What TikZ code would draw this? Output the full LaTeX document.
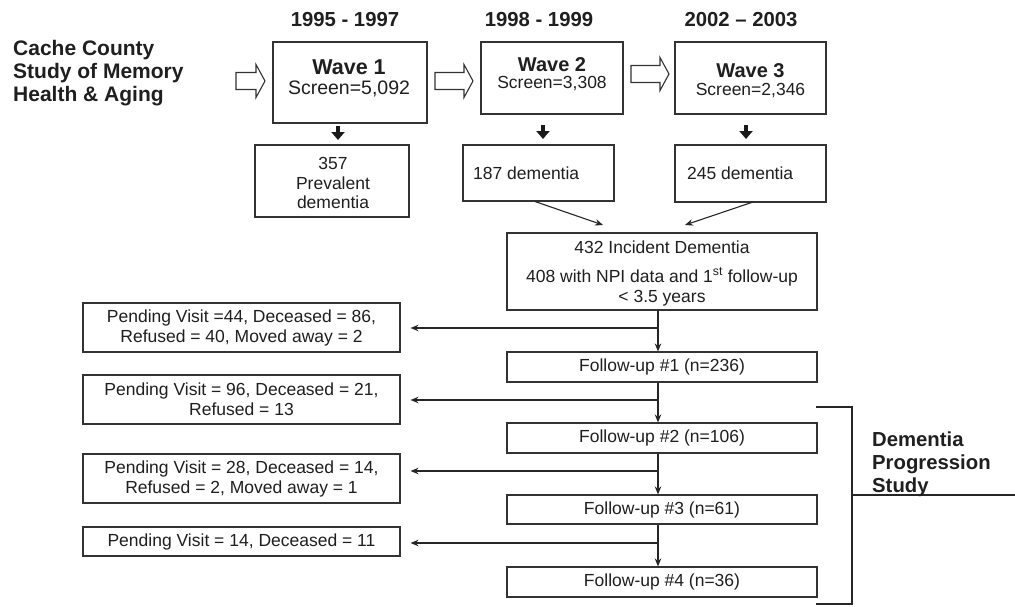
\documentclass[tikz,border=0pt]{standalone}
\usepackage{fontspec}
\setmainfont{Liberation Sans}
\usetikzlibrary{arrows.meta, calc}
\newcommand\hollowarr[2]{%
  \draw[hollow] (#1) ++(0,-8.5) -- ++(#2-9,0) -- ++(0,-8) -- ++(9,16.5) -- ++(-9,16.5) -- ++(0,-8) -- ++({-(#2-9)},0) -- cycle;}
\begin{document}
\begin{tikzpicture}[x=1pt,y=-1pt,
  every node/.style={text=black!88, inner sep=0pt},
  box/.style={draw=black!80, line width=1.1pt, fill=white},
  ntxt/.style={font=\fontsize{17.5}{20}\selectfont, align=center},
  btxt/.style={font=\fontsize{20.3}{23}\selectfont\bfseries, align=left},
  conn/.style={draw=black!85, line width=1.1pt, -{Stealth[length=8pt,width=6.5pt]}},
  down/.style={draw=black!90, line width=3.6pt, -{Triangle[length=8pt,width=13pt]}},
  hollow/.style={draw=black!80, line width=1.1pt, fill=white, line join=miter}]
\useasboundingbox (0,0) rectangle (1015,606);

% left title
\node[btxt, font=\fontsize{21}{23}\selectfont\bfseries, anchor=west] (cache) at (13,73) {Cache County\\Study of Memory\\Health \& Aging};

% years
\node[btxt] (y1) at (345,20) {1995 - 1997};
\node[btxt] (y2) at (539,20) {1998 - 1999};
\node[btxt] (y3) at (741,20) {2002 -- 2003};

% hollow arrows
\coordinate (ha1) at (236,81);
\coordinate (ha2) at (435,81);
\coordinate (ha3) at (631,74);
\hollowarr{ha1}{29}
\hollowarr{ha2}{38}
\hollowarr{ha3}{38}

% wave boxes
\node[box, minimum width=154pt, minimum height=81pt] (w1) at (350,82.5) {};
\node[align=center, font=\fontsize{19.5}{20}\selectfont] (w1t) at (349,78.8)
  {{\fontsize{21.5}{20}\selectfont\bfseries Wave 1}\\Screen=5,092};

\node[box, minimum width=142pt, minimum height=72pt] (w2) at (552,78) {};
\node[align=center, font=\fontsize{17.5}{16.5}\selectfont] (w2t) at (552,74)
  {{\fontsize{20}{16.5}\selectfont\bfseries Wave 2}\\Screen=3,308};

\node[box, minimum width=151pt, minimum height=72pt] (w3) at (750.5,78) {};
\node[align=center, font=\fontsize{17.5}{17.5}\selectfont] (w3t) at (750.5,80.5)
  {{\fontsize{20}{17.5}\selectfont\bfseries Wave 3}\\Screen=2,346};

% down arrows
\coordinate (s1) at (338,126); \coordinate (e1) at (338,140);
\coordinate (s2) at (543,125); \coordinate (e2) at (543,139);
\coordinate (s3) at (746,125); \coordinate (e3) at (746,139);
\draw[down] (s1) -- (e1);
\draw[down] (s2) -- (e2);
\draw[down] (s3) -- (e3);

% dementia boxes
\node[box, minimum width=154pt, minimum height=72pt] (d1) at (332,181) {};
\node[ntxt, font=\fontsize{17.5}{19.5}\selectfont] (d1t) at (333,183) {357\\Prevalent\\dementia};
\node[box, minimum width=151pt, minimum height=56pt] (d2) at (538.5,173) {};
\node[ntxt, anchor=west] (d2t) at (473,173) {187 dementia};
\node[box, minimum width=151pt, minimum height=57pt] (d3) at (750.5,173.5) {};
\node[ntxt, anchor=west] (d3t) at (687,173) {245 dementia};

% incident box
\node[box, minimum width=310pt, minimum height=77pt] (inc) at (662,271.5) {};
\node[ntxt] (inct) at (662,273) {432 Incident Dementia\\[9pt]408 with NPI data and 1\textsuperscript{st} follow-up\\{<} 3.5 years};

\coordinate (m2) at (603,225);
\coordinate (m3) at (685,225);
\coordinate (d2s) at (535,201.5);
\coordinate (d3s) at (753,202);
\draw[conn] (d2s) -- (m2);
\draw[conn] (d3s) -- (m3);

% follow-up boxes
\node[box, ntxt, minimum width=310pt, minimum height=30pt] (fu1) at (662,367) {Follow-up \#1 (n=236)};
\node[box, ntxt, minimum width=310pt, minimum height=30pt] (fu2) at (662,438) {Follow-up \#2 (n=106)};
\node[box, ntxt, minimum width=310pt, minimum height=29pt] (fu3) at (662,509.5) {Follow-up \#3 (n=61)};
\node[box, ntxt, minimum width=310pt, minimum height=30pt] (fu4) at (662,582) {Follow-up \#4 (n=36)};

% pending boxes
\node[box, ntxt, minimum width=317pt, minimum height=49pt] (p1) at (241.5,327.5) {Pending Visit =44, Deceased = 86,\\Refused = 40, Moved away = 2};
\node[box, ntxt, minimum width=317pt, minimum height=49pt] (p2) at (241.5,399.5) {Pending Visit = 96, Deceased = 21,\\Refused = 13};
\node[box, ntxt, minimum width=317pt, minimum height=49pt] (p3) at (241.5,478.5) {Pending Visit = 28, Deceased = 14,\\Refused = 2, Moved away = 1};
\node[box, ntxt, minimum width=317pt, minimum height=29pt] (p4) at (241.5,541.5) {Pending Visit = 14, Deceased = 11};

% main column
\coordinate (col) at (658,0);
\draw[conn] (inc.south -| col) -- (fu1.north -| col);
\draw[conn] (fu1.south -| col) -- (fu2.north -| col);
\draw[conn] (fu2.south -| col) -- (fu3.north -| col);
\draw[conn] (fu3.south -| col) -- (fu4.north -| col);

% branches
\coordinate (b1) at (658,328);
\coordinate (b2) at (658,400);
\coordinate (b3) at (658,471);
\coordinate (b4) at (658,543);
\draw[conn, shorten >=10pt] (b1) -- (b1 -| p1.east);
\draw[conn, shorten >=10pt] (b2) -- (b2 -| p2.east);
\draw[conn, shorten >=10pt] (b3) -- (b3 -| p3.east);
\draw[conn, shorten >=10pt] (b4) -- (b4 -| p4.east);

% bracket
\coordinate (k1) at (816,407);
\coordinate (k2) at (852,407);
\coordinate (k3) at (852,604);
\coordinate (k4) at (816,604);
\coordinate (k5) at (852,495);
\coordinate (k6) at (1015,495);
\draw[draw=black!85, line width=1.1pt] (k1) -- (k2) -- (k3) -- (k4);
\draw[draw=black!85, line width=1.1pt] (k5) -- (k6);
\node[btxt, anchor=west] (dps) at (872,464) {Dementia\\Progression\\Study};
\end{tikzpicture}
\end{document}
